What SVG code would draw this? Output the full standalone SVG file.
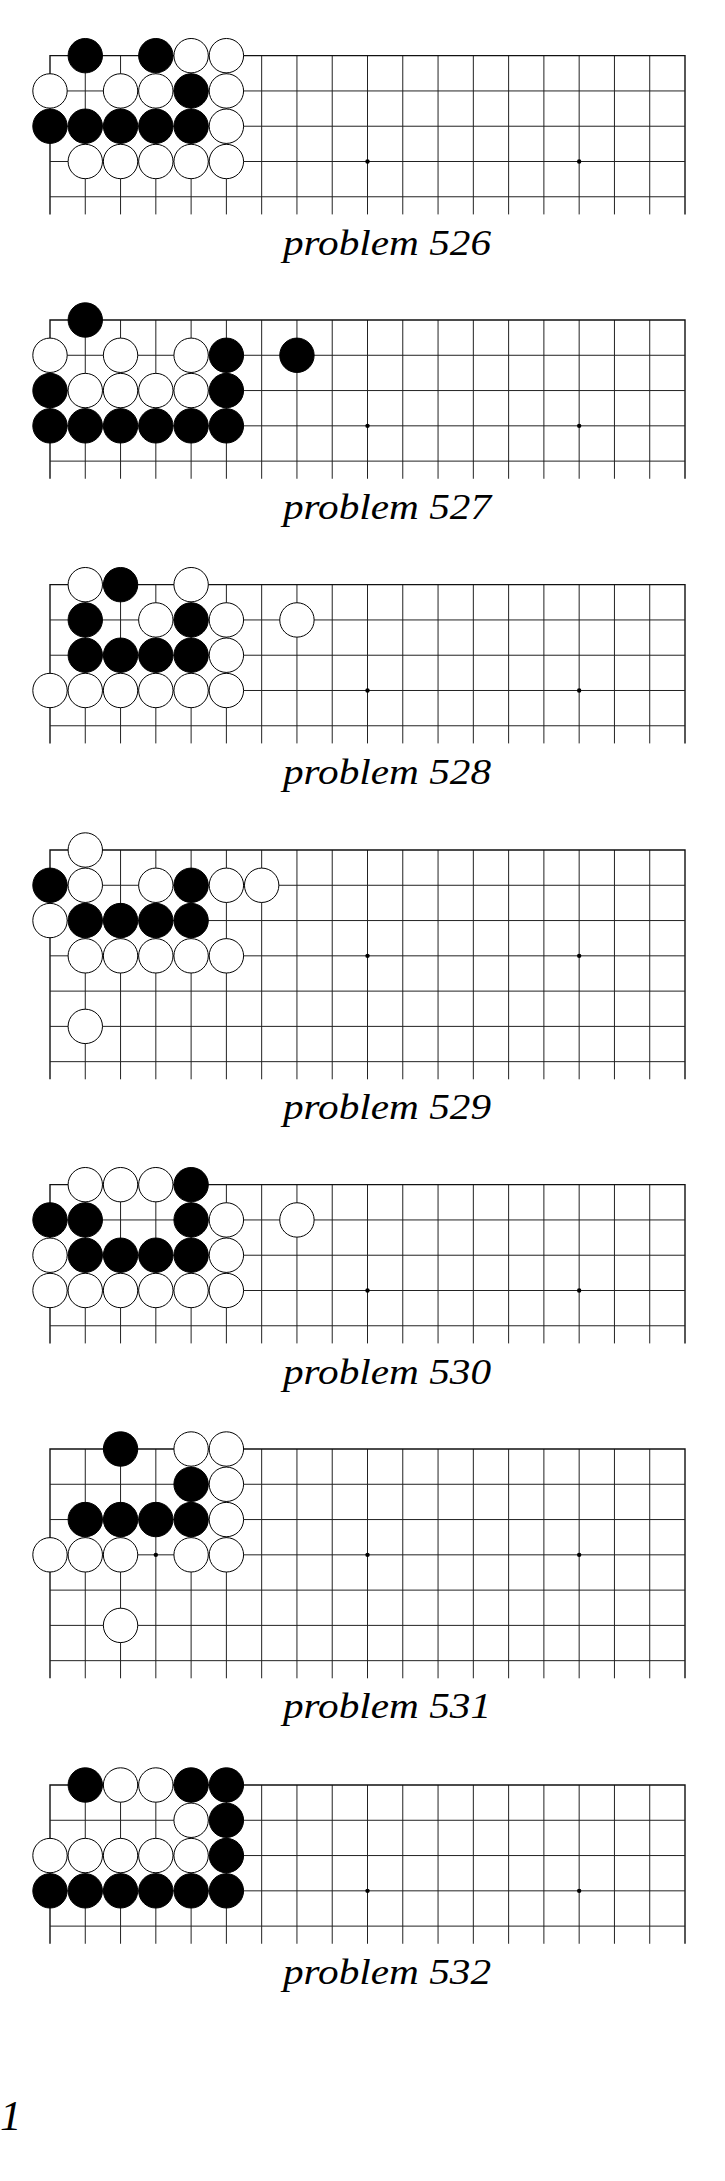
<svg xmlns="http://www.w3.org/2000/svg" xmlns:xlink="http://www.w3.org/1999/xlink" width="725" height="2181" viewBox="0 0 725 2181">
<style>
.ln{stroke:#222;stroke-width:1;fill:none}
.edge{stroke:#111;stroke-width:1.4;fill:none}
.lbl{font-family:"Liberation Serif",serif;font-style:italic;font-size:36px;fill:#000}
</style>
<defs>
<circle id="B" r="17.2" fill="#000" stroke="#000" stroke-width="1"/>
<circle id="W" r="17.2" fill="#fff" stroke="#000" stroke-width="1"/>
<g id="grid5">
<path class="ln" d="M85.28,0V158.75M120.56,0V158.75M155.83,0V158.75M191.11,0V158.75M226.39,0V158.75M261.67,0V158.75M296.94,0V158.75M332.22,0V158.75M367.5,0V158.75M402.78,0V158.75M438.06,0V158.75M473.33,0V158.75M508.61,0V158.75M543.89,0V158.75M579.17,0V158.75M614.44,0V158.75M649.72,0V158.75"/>
<path class="edge" d="M50,158.75V0H685V158.75"/>
<path class="ln" d="M50,35.28H685M50,70.56H685M50,105.83H685M50,141.11H685"/>
<circle cx="155.83" cy="105.83" r="2.2" fill="#000"/>
<circle cx="367.5" cy="105.83" r="2.2" fill="#000"/>
<circle cx="579.17" cy="105.83" r="2.2" fill="#000"/>
</g>
<g id="grid7">
<path class="ln" d="M85.28,0V229.31M120.56,0V229.31M155.83,0V229.31M191.11,0V229.31M226.39,0V229.31M261.67,0V229.31M296.94,0V229.31M332.22,0V229.31M367.5,0V229.31M402.78,0V229.31M438.06,0V229.31M473.33,0V229.31M508.61,0V229.31M543.89,0V229.31M579.17,0V229.31M614.44,0V229.31M649.72,0V229.31"/>
<path class="edge" d="M50,229.31V0H685V229.31"/>
<path class="ln" d="M50,35.28H685M50,70.56H685M50,105.83H685M50,141.11H685M50,176.39H685M50,211.67H685"/>
<circle cx="155.83" cy="105.83" r="2.2" fill="#000"/>
<circle cx="367.5" cy="105.83" r="2.2" fill="#000"/>
<circle cx="579.17" cy="105.83" r="2.2" fill="#000"/>
</g>
</defs>

<g id="problem-526" transform="translate(0,55.67)">
<use xlink:href="#grid5"/>
<use xlink:href="#B" x="85.28" y="0"/><use xlink:href="#B" x="155.83" y="0"/><use xlink:href="#W" x="191.11" y="0"/><use xlink:href="#W" x="226.39" y="0"/>
<use xlink:href="#W" x="50" y="35.28"/><use xlink:href="#W" x="120.56" y="35.28"/><use xlink:href="#W" x="155.83" y="35.28"/><use xlink:href="#B" x="191.11" y="35.28"/><use xlink:href="#W" x="226.39" y="35.28"/>
<use xlink:href="#B" x="50" y="70.56"/><use xlink:href="#B" x="85.28" y="70.56"/><use xlink:href="#B" x="120.56" y="70.56"/><use xlink:href="#B" x="155.83" y="70.56"/><use xlink:href="#B" x="191.11" y="70.56"/><use xlink:href="#W" x="226.39" y="70.56"/>
<use xlink:href="#W" x="85.28" y="105.83"/><use xlink:href="#W" x="120.56" y="105.83"/><use xlink:href="#W" x="155.83" y="105.83"/><use xlink:href="#W" x="191.11" y="105.83"/><use xlink:href="#W" x="226.39" y="105.83"/>
<text class="lbl" x="283" y="199" textLength="208" lengthAdjust="spacingAndGlyphs">problem 526</text>
</g>

<g id="problem-527" transform="translate(0,320)">
<use xlink:href="#grid5"/>
<use xlink:href="#B" x="85.28" y="0"/>
<use xlink:href="#W" x="50" y="35.28"/><use xlink:href="#W" x="120.56" y="35.28"/><use xlink:href="#W" x="191.11" y="35.28"/><use xlink:href="#B" x="226.39" y="35.28"/><use xlink:href="#B" x="296.94" y="35.28"/>
<use xlink:href="#B" x="50" y="70.56"/><use xlink:href="#W" x="85.28" y="70.56"/><use xlink:href="#W" x="120.56" y="70.56"/><use xlink:href="#W" x="155.83" y="70.56"/><use xlink:href="#W" x="191.11" y="70.56"/><use xlink:href="#B" x="226.39" y="70.56"/>
<use xlink:href="#B" x="50" y="105.83"/><use xlink:href="#B" x="85.28" y="105.83"/><use xlink:href="#B" x="120.56" y="105.83"/><use xlink:href="#B" x="155.83" y="105.83"/><use xlink:href="#B" x="191.11" y="105.83"/><use xlink:href="#B" x="226.39" y="105.83"/>
<text class="lbl" x="283" y="199" textLength="208" lengthAdjust="spacingAndGlyphs">problem 527</text>
</g>

<g id="problem-528" transform="translate(0,584.67)">
<use xlink:href="#grid5"/>
<use xlink:href="#W" x="85.28" y="0"/><use xlink:href="#B" x="120.56" y="0"/><use xlink:href="#W" x="191.11" y="0"/>
<use xlink:href="#B" x="85.28" y="35.28"/><use xlink:href="#W" x="155.83" y="35.28"/><use xlink:href="#B" x="191.11" y="35.28"/><use xlink:href="#W" x="226.39" y="35.28"/><use xlink:href="#W" x="296.94" y="35.28"/>
<use xlink:href="#B" x="85.28" y="70.56"/><use xlink:href="#B" x="120.56" y="70.56"/><use xlink:href="#B" x="155.83" y="70.56"/><use xlink:href="#B" x="191.11" y="70.56"/><use xlink:href="#W" x="226.39" y="70.56"/>
<use xlink:href="#W" x="50" y="105.83"/><use xlink:href="#W" x="85.28" y="105.83"/><use xlink:href="#W" x="120.56" y="105.83"/><use xlink:href="#W" x="155.83" y="105.83"/><use xlink:href="#W" x="191.11" y="105.83"/><use xlink:href="#W" x="226.39" y="105.83"/>
<text class="lbl" x="283" y="199" textLength="208" lengthAdjust="spacingAndGlyphs">problem 528</text>
</g>

<g id="problem-529" transform="translate(0,850)">
<use xlink:href="#grid7"/>
<use xlink:href="#W" x="85.28" y="0"/>
<use xlink:href="#B" x="50" y="35.28"/><use xlink:href="#W" x="85.28" y="35.28"/><use xlink:href="#W" x="155.83" y="35.28"/><use xlink:href="#B" x="191.11" y="35.28"/><use xlink:href="#W" x="226.39" y="35.28"/><use xlink:href="#W" x="261.67" y="35.28"/>
<use xlink:href="#W" x="50" y="70.56"/><use xlink:href="#B" x="85.28" y="70.56"/><use xlink:href="#B" x="120.56" y="70.56"/><use xlink:href="#B" x="155.83" y="70.56"/><use xlink:href="#B" x="191.11" y="70.56"/>
<use xlink:href="#W" x="85.28" y="105.83"/><use xlink:href="#W" x="120.56" y="105.83"/><use xlink:href="#W" x="155.83" y="105.83"/><use xlink:href="#W" x="191.11" y="105.83"/><use xlink:href="#W" x="226.39" y="105.83"/>
<use xlink:href="#W" x="85.28" y="176.39"/>
<text class="lbl" x="283" y="269" textLength="208" lengthAdjust="spacingAndGlyphs">problem 529</text>
</g>

<g id="problem-530" transform="translate(0,1184.67)">
<use xlink:href="#grid5"/>
<use xlink:href="#W" x="85.28" y="0"/><use xlink:href="#W" x="120.56" y="0"/><use xlink:href="#W" x="155.83" y="0"/><use xlink:href="#B" x="191.11" y="0"/>
<use xlink:href="#B" x="50" y="35.28"/><use xlink:href="#B" x="85.28" y="35.28"/><use xlink:href="#B" x="191.11" y="35.28"/><use xlink:href="#W" x="226.39" y="35.28"/><use xlink:href="#W" x="296.94" y="35.28"/>
<use xlink:href="#W" x="50" y="70.56"/><use xlink:href="#B" x="85.28" y="70.56"/><use xlink:href="#B" x="120.56" y="70.56"/><use xlink:href="#B" x="155.83" y="70.56"/><use xlink:href="#B" x="191.11" y="70.56"/><use xlink:href="#W" x="226.39" y="70.56"/>
<use xlink:href="#W" x="50" y="105.83"/><use xlink:href="#W" x="85.28" y="105.83"/><use xlink:href="#W" x="120.56" y="105.83"/><use xlink:href="#W" x="155.83" y="105.83"/><use xlink:href="#W" x="191.11" y="105.83"/><use xlink:href="#W" x="226.39" y="105.83"/>
<text class="lbl" x="283" y="199" textLength="208" lengthAdjust="spacingAndGlyphs">problem 530</text>
</g>

<g id="problem-531" transform="translate(0,1449)">
<use xlink:href="#grid7"/>
<use xlink:href="#B" x="120.56" y="0"/><use xlink:href="#W" x="191.11" y="0"/><use xlink:href="#W" x="226.39" y="0"/>
<use xlink:href="#B" x="191.11" y="35.28"/><use xlink:href="#W" x="226.39" y="35.28"/>
<use xlink:href="#B" x="85.28" y="70.56"/><use xlink:href="#B" x="120.56" y="70.56"/><use xlink:href="#B" x="155.83" y="70.56"/><use xlink:href="#B" x="191.11" y="70.56"/><use xlink:href="#W" x="226.39" y="70.56"/>
<use xlink:href="#W" x="50" y="105.83"/><use xlink:href="#W" x="85.28" y="105.83"/><use xlink:href="#W" x="120.56" y="105.83"/><use xlink:href="#W" x="191.11" y="105.83"/><use xlink:href="#W" x="226.39" y="105.83"/>
<use xlink:href="#W" x="120.56" y="176.39"/>
<text class="lbl" x="283" y="269" textLength="208" lengthAdjust="spacingAndGlyphs">problem 531</text>
</g>

<g id="problem-532" transform="translate(0,1785)">
<use xlink:href="#grid5"/>
<use xlink:href="#B" x="85.28" y="0"/><use xlink:href="#W" x="120.56" y="0"/><use xlink:href="#W" x="155.83" y="0"/><use xlink:href="#B" x="191.11" y="0"/><use xlink:href="#B" x="226.39" y="0"/>
<use xlink:href="#W" x="191.11" y="35.28"/><use xlink:href="#B" x="226.39" y="35.28"/>
<use xlink:href="#W" x="50" y="70.56"/><use xlink:href="#W" x="85.28" y="70.56"/><use xlink:href="#W" x="120.56" y="70.56"/><use xlink:href="#W" x="155.83" y="70.56"/><use xlink:href="#W" x="191.11" y="70.56"/><use xlink:href="#B" x="226.39" y="70.56"/>
<use xlink:href="#B" x="50" y="105.83"/><use xlink:href="#B" x="85.28" y="105.83"/><use xlink:href="#B" x="120.56" y="105.83"/><use xlink:href="#B" x="155.83" y="105.83"/><use xlink:href="#B" x="191.11" y="105.83"/><use xlink:href="#B" x="226.39" y="105.83"/>
<text class="lbl" x="283" y="199" textLength="208" lengthAdjust="spacingAndGlyphs">problem 532</text>
</g>

<g id="page-number">
<text x="0" y="2130" style="font-family:'Liberation Serif',serif;font-style:italic;font-size:43px">1</text>
</g>
<g id="connectors"/>
</svg>
